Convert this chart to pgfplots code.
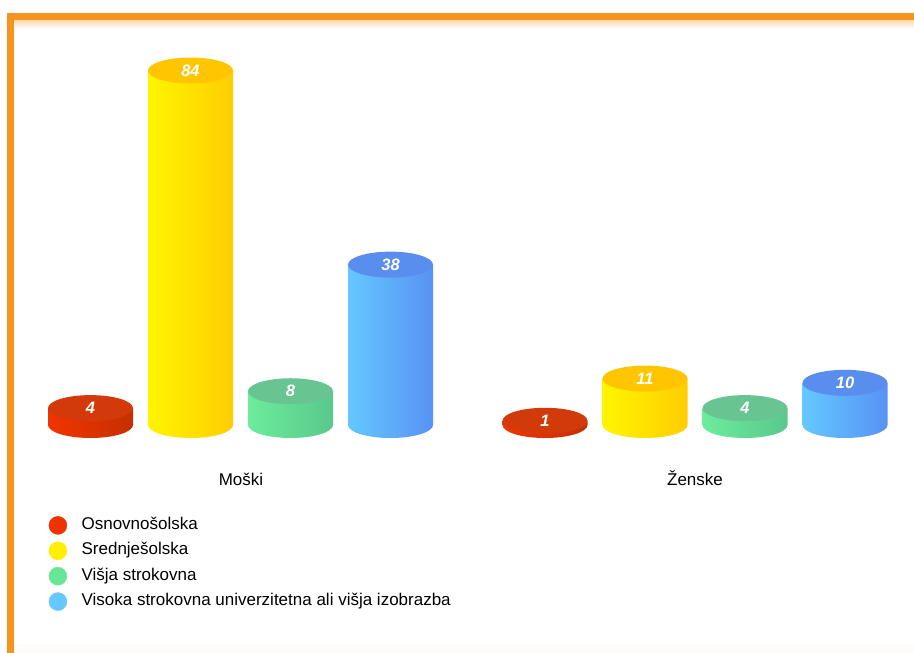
\documentclass[border=0pt]{standalone}
\usepackage{pgfplots}
\usepackage{pgfplotstable}
\pgfplotsset{compat=1.18}
\usepackage{fontspec}
\setmainfont{Liberation Sans}
\definecolor{frameor}{RGB}{247,148,30}
\definecolor{redL}{RGB}{242,52,0}
\definecolor{redR}{RGB}{196,48,0}
\definecolor{redT}{RGB}{210,58,10}
\definecolor{yelL}{RGB}{255,245,0}
\definecolor{yelR}{RGB}{255,205,0}
\definecolor{yelT}{RGB}{255,198,0}
\definecolor{grnL}{RGB}{108,236,156}
\definecolor{grnR}{RGB}{90,200,140}
\definecolor{grnT}{RGB}{104,196,144}
\definecolor{bluL}{RGB}{100,200,255}
\definecolor{bluR}{RGB}{88,146,245}
\definecolor{bluT}{RGB}{90,142,238}
\definecolor{legR}{RGB}{238,51,0}
\definecolor{legY}{RGB}{255,240,0}
\definecolor{legG}{RGB}{102,230,150}
\definecolor{legB}{RGB}{102,200,255}
% cylinder mark: placed at the top centre (x, value); its height is value * 4.22pt
\newcommand\defcyl[4]{%
 \pgfdeclareplotmark{cyl#1}{%
   \pgfmathsetlengthmacro\hh{\val*4.22pt}%
   \shade[draw=none, left color=#2, right color=#3] (-42.5pt,0pt) -- (-42.5pt,-\hh)
     arc[start angle=180, end angle=360, x radius=42.5pt, y radius=13pt]
     -- (42.5pt,0pt) -- cycle;
   \fill[draw=none, #4] (0pt,0pt) ellipse [x radius=42.5pt, y radius=13pt];}}
\defcyl{red}{redL}{redR}{redT}
\defcyl{yel}{yelL}{yelR}{yelT}
\defcyl{grn}{grnL}{grnR}{grnT}
\defcyl{blu}{bluL}{bluR}{bluT}
% x = horizontal position (px), v = value
\pgfplotstableread{
x v
90.5 4
545 1
}\osnovna
\pgfplotstableread{
x v
190.5 84
645 11
}\srednja
\pgfplotstableread{
x v
290.5 8
745 4
}\visja
\pgfplotstableread{
x v
390.5 38
845 10
}\visoka
\begin{document}
\begin{tikzpicture}
\useasboundingbox (0,0) rectangle (914pt,653pt);
\begin{axis}[
  at={(0,0)}, anchor=south west,
  width=914pt, height=653pt, scale only axis,
  xmin=0, xmax=914, ymin=-54.028, ymax=100.711,
  hide axis, clip=false,
  /pgf/number format/assume math mode=true,
  legend style={at={(axis cs:48.5,-21.56)}, anchor=north west, draw=none, fill=none,
    font=\fontsize{17}{20}\selectfont, row sep=7pt, column sep=14.5pt, inner sep=0pt,
    nodes={inner sep=0pt, text height=12pt, text depth=4pt}},
  legend cell align=left,
  every node near coord/.append style={anchor=center, text=white,
    font=\fontsize{16.5}{18}\selectfont\bfseries\itshape},
  cyl/.style={forget plot, only marks, mark options={draw=none},
    visualization depends on={\thisrow{v} \as \val}, nodes near coords},
]
\addlegendimage{legend image code/.code={\fill[legR] (9pt,0pt) circle (9pt);}}
\addlegendentry{Osnovnošolska}
\addlegendimage{legend image code/.code={\fill[legY] (9pt,0pt) circle (9pt);}}
\addlegendentry{Srednješolska}
\addlegendimage{legend image code/.code={\fill[legG] (9pt,0pt) circle (9pt);}}
\addlegendentry{Višja strokovna}
\addlegendimage{legend image code/.code={\fill[legB] (9pt,0pt) circle (9pt);}}
\addlegendentry{Visoka strokovna univerzitetna ali višja izobrazba}
\addplot[cyl, mark=cylred] table[x=x, y=v] {\osnovna};
\addplot[cyl, mark=cylyel] table[x=x, y=v] {\srednja};
\addplot[cyl, mark=cylgrn] table[x=x, y=v] {\visja};
\addplot[cyl, mark=cylblu] table[x=x, y=v] {\visoka};
\node[anchor=base, font=\fontsize{17}{20}\selectfont] at (axis cs:241,-14.22) {Moški};
\node[anchor=base, font=\fontsize{17}{20}\selectfont] at (axis cs:695,-14.22) {Ženske};
\end{axis}
\shade[top color=frameor!35, bottom color=white] (14pt,624pt) rectangle (914pt,633pt);
\fill[frameor] (7pt,633pt) rectangle (914pt,640pt);
\fill[frameor] (7pt,0pt) rectangle (14pt,640pt);
\fill[frameor!4] (14pt,0pt) rectangle (914pt,9pt);
\end{tikzpicture}
\end{document}
